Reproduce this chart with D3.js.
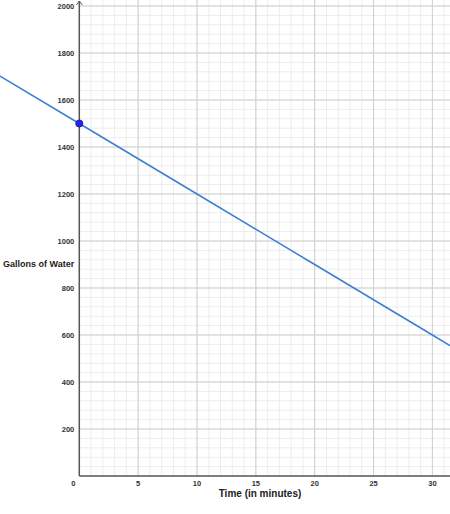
<!DOCTYPE html>
<html>
<head>
<meta charset="utf-8">
<script src="https://cdn.jsdelivr.net/npm/d3@7"></script>
<style>
  body { margin: 0; background: #fff; }
  svg { display: block; font-family: Arial, "Liberation Sans", sans-serif; }
</style>
</head>
<body>
<div id="chart"></div>
<script>
// data
const lineTimes = [-7, 0, 10, 20, 30, 32];
const lineGallons = [1710, 1500, 1200, 900, 600, 540];
const pointTimes = [0];
const pointGallons = [1500];
const xTicks = [5, 10, 15, 20, 25, 30];
const yTicks = [200, 400, 600, 800, 1000, 1200, 1400, 1600, 1800, 2000];

const width = 450, height = 514;
const originX = 79.3, originY = 476;

const svg = d3.select("#chart").append("svg")
    .attr("width", width)
    .attr("height", height);

const x = d3.scaleLinear().domain([0, 30]).range([originX, 432.4]);
const y = d3.scaleLinear().domain([0, 2000]).range([originY, 6]);

const xMax = x.invert(width), yMax = y.invert(0);

// minor grid
const grid = svg.append("g");
grid.selectAll("line.vminor")
    .data(d3.range(1, Math.floor(xMax) + 1))
    .enter().append("line")
    .attr("x1", d => x(d)).attr("x2", d => x(d))
    .attr("y1", 0).attr("y2", originY)
    .attr("stroke", "#ededed").attr("stroke-width", 1);
grid.selectAll("line.hminor")
    .data(d3.range(40, yMax, 40))
    .enter().append("line")
    .attr("x1", originX).attr("x2", width)
    .attr("y1", d => y(d)).attr("y2", d => y(d))
    .attr("stroke", "#ededed").attr("stroke-width", 1);

// major grid
grid.selectAll("line.vmajor")
    .data(xTicks)
    .enter().append("line")
    .attr("x1", d => x(d)).attr("x2", d => x(d))
    .attr("y1", 0).attr("y2", originY)
    .attr("stroke", "#cfcfcf").attr("stroke-width", 1);
grid.selectAll("line.hmajor")
    .data(yTicks)
    .enter().append("line")
    .attr("x1", originX).attr("x2", width)
    .attr("y1", d => y(d)).attr("y2", d => y(d))
    .attr("stroke", "#cfcfcf").attr("stroke-width", 1);

// axes
svg.append("line")
    .attr("x1", originX).attr("x2", width)
    .attr("y1", originY).attr("y2", originY)
    .attr("stroke", "#555").attr("stroke-width", 1.5);
svg.append("line")
    .attr("x1", originX).attr("x2", originX)
    .attr("y1", 1).attr("y2", originY)
    .attr("stroke", "#555").attr("stroke-width", 1.5);
svg.append("path")
    .attr("d", `M${originX - 3},${5} L${originX},${1} L${originX + 3},${5}`)
    .attr("fill", "none").attr("stroke", "#555").attr("stroke-width", 1);

// tick labels
svg.selectAll("text.xt")
    .data(xTicks)
    .enter().append("text")
    .attr("x", d => x(d)).attr("y", originY + 10)
    .attr("text-anchor", "middle")
    .attr("font-size", 7.5).attr("font-weight", "bold").attr("fill", "#333")
    .text(d => d);
svg.append("text")
    .attr("x", originX - 6).attr("y", originY + 10)
    .attr("text-anchor", "middle")
    .attr("font-size", 7.5).attr("font-weight", "bold").attr("fill", "#333")
    .text("0");
svg.selectAll("text.yt")
    .data(yTicks)
    .enter().append("text")
    .attr("x", originX - 5).attr("y", d => y(d) + 3)
    .attr("text-anchor", "end")
    .attr("font-size", 7.5).attr("font-weight", "bold").attr("fill", "#333")
    .text(d => d);

// axis titles
svg.append("text")
    .attr("x", 3).attr("y", 267)
    .attr("font-size", 9).attr("font-weight", "bold").attr("fill", "#222")
    .text("Gallons of Water");
svg.append("text")
    .attr("x", 260).attr("y", 497)
    .attr("text-anchor", "middle")
    .attr("font-size", 10).attr("font-weight", "bold").attr("fill", "#222")
    .text("Time (in minutes)");

// line
const line = d3.line()
    .x((d, i) => x(lineTimes[i]))
    .y((d, i) => y(lineGallons[i]));
svg.append("path")
    .datum(lineTimes)
    .attr("d", line)
    .attr("fill", "none")
    .attr("stroke", "#3b7fd4")
    .attr("stroke-width", 1.5);

// point
svg.selectAll("circle.pt")
    .data(pointTimes)
    .enter().append("circle")
    .attr("cx", d => x(d))
    .attr("cy", (d, i) => y(pointGallons[i]))
    .attr("r", 3.6)
    .attr("fill", "#2424f0")
    .attr("stroke", "#1a1a8a")
    .attr("stroke-width", 0.8);
</script>
</body>
</html>
